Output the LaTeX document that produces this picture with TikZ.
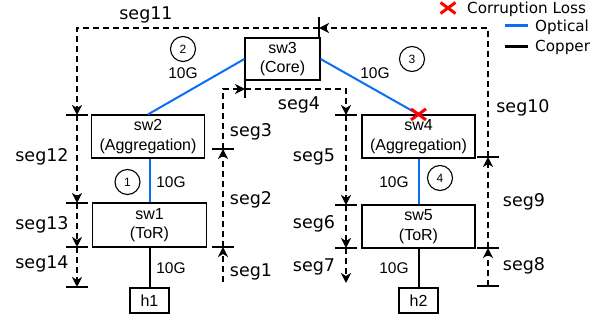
\documentclass[tikz,border=0pt]{standalone}
\usepackage{fontspec}
\setmainfont{Liberation Sans}
\newfontfamily\labelfont{DejaVu Sans}
\usetikzlibrary{arrows.meta}
\definecolor{optblue}{RGB}{10,110,245}
\definecolor{lossred}{RGB}{255,0,0}
\begin{document}
\begin{tikzpicture}[x=1pt,y=-1pt,
  switch/.style={draw, line width=1.2pt, align=center, inner sep=0pt,
    minimum width=113pt, minimum height=43pt,
    font=\fontsize{16}{19.5}\selectfont},
  host/.style={draw, line width=1.2pt, inner sep=0pt, minimum width=39pt,
    minimum height=25pt, font=\fontsize{16}{19}\selectfont},
  optical/.style={optblue, line width=2pt},
  copper/.style={black, line width=2pt},
  rate/.style={font=\fontsize{15.5}{18}\selectfont, inner sep=0pt},
  hop/.style={draw, circle, line width=1.1pt, minimum size=25pt, inner sep=0pt,
    font=\fontsize{12}{14}\selectfont},
  seg/.style={line width=2pt, dash pattern=on 6pt off 4pt,
    -{Stealth[length=10pt,width=10pt,inset=3pt]}},
  segbar/.style={line width=2.5pt},
  seglabel/.style={font=\labelfont\fontsize{17.5}{21}\selectfont, inner sep=0pt},
  lossmark/.style={lossred, line width=3pt},
  legend/.style={font=\labelfont\fontsize{15.2}{18}\selectfont, anchor=west, inner sep=0pt},
  lossx/.pic={\draw[lossmark] (-7.5,-5.5) -- (7.5,5.5) (-7.5,5.5) -- (7.5,-5.5);}
]
\useasboundingbox (0,0) rectangle (611,320);

% switches and hosts
\node[switch, minimum width=75pt, minimum height=42pt] (sw3) at (282.5,59) {sw3\\(Core)};
\node[switch] (sw2) at (148,136.5) {sw2\\(Aggregation)};
\node[switch, minimum width=114pt, minimum height=44pt] (sw1) at (149.5,225) {sw1\\(ToR)};
\node[host] (h1) at (149.5,300.5) {h1};
\node[switch] (sw4) at (418.5,136.5) {sw4\\(Aggregation)};
\node[switch] (sw5) at (418.5,226.5) {sw5\\(ToR)};
\node[host] (h2) at (418.5,300.5) {h2};

% links
\draw[optical] (sw2.north) -- (sw3.west);
\draw[optical] (sw3.east) -- (sw4.north);
\draw[optical] (sw1.north) -- (sw1.north |- sw2.south);
\draw[copper] (sw1.south) -- (h1.north);
\draw[optical] (sw5.north) -- (sw5.north |- sw4.south);
\draw[copper] (sw5.south) -- (h2.north);

% link rates and hop numbers
\node[rate] (r2) at (183,73) {10G};
\node[rate] (r3) at (375,73) {10G};
\node[rate] (r1) at (171,182) {10G};
\node[rate] (r0) at (171,268) {10G};
\node[rate] (r4) at (394,182) {10G};
\node[rate] (r5) at (394,268) {10G};
\node[hop] (n2) at (183,49) {2};
\node[hop] (n3) at (412,59) {3};
\node[hop] (n1) at (127.5,182) {1};
\node[hop] (n4) at (440,178) {4};

% corruption loss mark on the core-to-aggregation link
\pic at (sw4.north) {lossx};

% segment end points
\coordinate (T) at (319,28);
\coordinate (L0) at (77,115);
\coordinate (L1) at (77,203);
\coordinate (L2) at (77,247);
\coordinate (L3) at (77,287);
\coordinate (A0) at (223,282);
\coordinate (A1) at (223,247);
\coordinate (A2) at (223,149);
\coordinate (B) at (245,89);
\coordinate (C0) at (346,115);
\coordinate (C1) at (346,205);
\coordinate (C2) at (346,248);
\coordinate (C3) at (346,283);
\coordinate (D0) at (488,286);
\coordinate (D1) at (488,248);
\coordinate (D2) at (488,157);

% segment boundary bars
\foreach \p in {L0,L1,L2,L3,A1,A2,C0,C1,C2,D0,D1,D2}
  \draw[segbar] ([xshift=-11pt]\p) -- ([xshift=11pt]\p);
\draw[segbar] ([yshift=11pt]T) -- ([yshift=-10pt]T);
\draw[segbar] ([yshift=9pt]B) -- ([yshift=-9pt]B);

% segments
\draw[seg] (A0) -- (A1);
\draw[seg] (A1) -- (A2);
\draw[seg] (A2) |- (B);
\draw[seg] (B) -| (C0);
\draw[seg] (C0) -- (C1);
\draw[seg] (C1) -- (C2);
\draw[seg] (C2) -- (C3);
\draw[seg] (D0) -- (D1);
\draw[seg] (D1) -- (D2);
\draw[seg] (D2) |- (T);
\draw[seg] (T) -| (L0);
\draw[seg] (L0) -- (L1);
\draw[seg] (L1) -- (L2);
\draw[seg] (L2) -- (L3);

% segment labels
\node[seglabel] (s1) at (251,272) {seg1};
\node[seglabel] (s2) at (251,200) {seg2};
\node[seglabel] (s3) at (251,132) {seg3};
\node[seglabel] (s4) at (299,105) {seg4};
\node[seglabel] (s5) at (314,157) {seg5};
\node[seglabel] (s6) at (314,224) {seg6};
\node[seglabel] (s7) at (314,267) {seg7};
\node[seglabel] (s8) at (524,266) {seg8};
\node[seglabel] (s9) at (524,202) {seg9};
\node[seglabel] (s10) at (523,108) {seg10};
\node[seglabel] (s11) at (146,15) {seg11};
\node[seglabel] (s12) at (42,157) {seg12};
\node[seglabel] (s13) at (42,225) {seg13};
\node[seglabel] (s14) at (42,264) {seg14};

% legend
\pic at (448,8) {lossx};
\node[legend] (lgLoss) at (467,9) {Corruption Loss};
\coordinate (oa) at (505,26);
\coordinate (ob) at (528,26);
\draw[optical, line width=3pt] (oa) -- (ob);
\node[legend] (lgOpt) at (535,27) {Optical};
\coordinate (ca) at (505,47);
\coordinate (cb) at (528,47);
\draw[copper, line width=3pt] (ca) -- (cb);
\node[legend] (lgCu) at (535,47) {Copper};
\end{tikzpicture}
\end{document}
